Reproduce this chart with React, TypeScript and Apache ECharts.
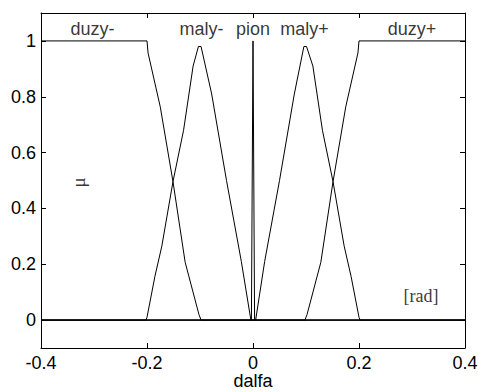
import React, { useEffect, useRef } from "react";
import * as echarts from "echarts";

const xTicks = [-0.4, -0.2, 0, 0.2, 0.4];
const yTicks = [0, 0.2, 0.4, 0.6, 0.8, 1];

const duzyMinus = [
  [-0.4, 1], [-0.2, 1], [-0.198, 0.957], [-0.175, 0.764], [-0.151, 0.496],
  [-0.128, 0.207], [-0.102, 0.02], [-0.098, 0], [0.4, 0],
];
const malyMinus = [
  [-0.4, 0], [-0.202, 0], [-0.2, 0.01], [-0.185, 0.157], [-0.172, 0.265], [-0.151, 0.496],
  [-0.131, 0.68], [-0.113, 0.91], [-0.103, 0.98], [-0.098, 0.98],
  [-0.078, 0.81], [-0.05, 0.5], [-0.022, 0.21], [-0.004, 0], [0.4, 0],
];
const pion = [[-0.4, 0], [-0.003, 0], [0, 1], [0.003, 0], [0.4, 0]];
const malyPlus = [
  [-0.4, 0], [0.005, 0], [0.022, 0.21], [0.05, 0.5], [0.078, 0.81],
  [0.096, 0.98], [0.101, 0.98], [0.113, 0.91], [0.131, 0.68], [0.151, 0.496],
  [0.172, 0.265], [0.185, 0.157], [0.2, 0.01], [0.202, 0], [0.4, 0],
];
const duzyPlus = [
  [-0.4, 0], [0.098, 0], [0.102, 0.02], [0.128, 0.207], [0.151, 0.496],
  [0.175, 0.764], [0.198, 0.957], [0.2, 1], [0.4, 1],
];

const setNames = ["duzy-", "maly-", "pion", "maly+", "duzy+"];
const setLabelX = [-0.303, -0.097, 0, 0.097, 0.3];
const setLabelY = 1.043;

const unitLabel = "[rad]";
const unitPos = [0.317, 0.086];
const muLabel = "μ";
const muPos = [-0.33, 0.493];

export default function App() {
  const ref = useRef<HTMLDivElement>(null);
  useEffect(() => {
    if (!ref.current) return;
    const chart = echarts.init(ref.current, null, { renderer: "svg" });
    const font = "Liberation Sans, Arial, Helvetica, sans-serif";
    const serif = "Liberation Serif, Times New Roman, serif";
    const lineStyle = { color: "#000", width: 1 };
    const curves = [duzyMinus, malyMinus, pion, malyPlus, duzyPlus];
    const series: any[] = curves.map((d, i) => ({
      type: "line",
      name: setNames[i],
      data: d,
      symbol: "none",
      lineStyle,
      z: 3,
    }));
    const textSeries = (items: any[], family: string, size: number, rotate = 0) => ({
      type: "scatter",
      symbolSize: 1,
      itemStyle: { color: "rgba(0,0,0,0)" },
      label: {
        show: true,
        position: "inside",
        rotate,
        formatter: (p: any) => p.name,
        color: "#000",
        textBorderWidth: 0,
        fontFamily: family,
        fontSize: size,
      },
      data: items,
      z: 5,
    });
    series.push(
      textSeries(
        setNames.map((n, i) => ({ name: n, value: [setLabelX[i], setLabelY] })),
        font,
        18
      )
    );
    series.push(textSeries([{ name: unitLabel, value: unitPos }], serif, 18));
    series.push(textSeries([{ name: muLabel, value: muPos }], serif, 19, 90));

    const axisLine = { show: true, onZero: false, lineStyle: { color: "#000", width: 1 } };
    const tick = (vals: number[]) => ({
      show: true,
      inside: true,
      length: 5,
      lineStyle: { color: "#000" },
      customValues: vals,
    });
    chart.setOption({
      animation: false,
      backgroundColor: "#fff",
      grid: {
        left: 41,
        right: 13,
        top: 13,
        bottom: 44,
        containLabel: false,
        outerBoundsMode: "none",
      },
      xAxis: [
        {
          type: "value",
          position: "bottom",
          min: -0.4,
          max: 0.4,
          interval: 0.2,
          axisLine,
          axisTick: tick(xTicks),
          axisLabel: {
            color: "#000",
            fontFamily: font,
            fontSize: 18,
            lineHeight: 16,
            margin: 7,
            customValues: xTicks,
            formatter: (v: number) => String(Math.round(v * 10) / 10),
          },
          splitLine: { show: false },
          name: "dalfa",
          nameLocation: "middle",
          nameGap: 25,
          nameMoveOverlap: false,
          nameTextStyle: { color: "#000", fontFamily: font, fontSize: 18, lineHeight: 16 },
        },
        {
          type: "value",
          position: "top",
          min: -0.4,
          max: 0.4,
          interval: 0.2,
          axisLine,
          axisTick: tick(xTicks),
          axisLabel: { show: false },
          splitLine: { show: false },
        },
      ],
      yAxis: [
        {
          type: "value",
          position: "left",
          min: -0.1,
          max: 1.1,
          axisLine,
          axisTick: tick(yTicks),
          axisLabel: {
            color: "#000",
            fontFamily: font,
            fontSize: 18,
            margin: 5,
            customValues: yTicks,
            formatter: (v: number) => String(Math.round(v * 10) / 10),
          },
          splitLine: { show: false },
        },
        {
          type: "value",
          position: "right",
          min: -0.1,
          max: 1.1,
          axisLine,
          axisTick: tick(yTicks),
          axisLabel: { show: false },
          splitLine: { show: false },
        },
      ],
      series,
    });
    return () => chart.dispose();
  }, []);
  return (
    <div
      ref={ref}
      style={{ position: "absolute", left: 0, top: 0, width: 478, height: 392 }}
    />
  );
}
